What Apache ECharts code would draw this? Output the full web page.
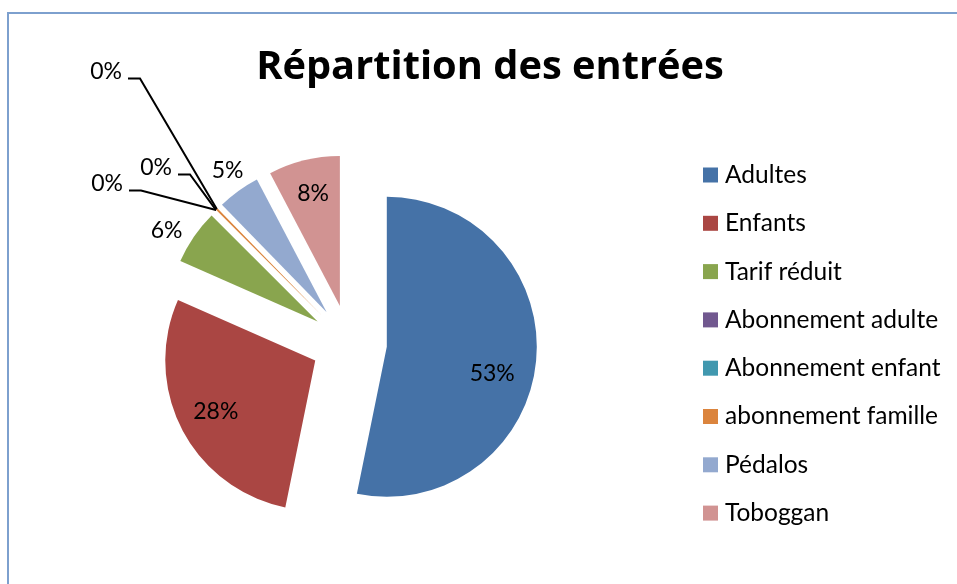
<!DOCTYPE html>
<html>
<head>
<meta charset="utf-8">
<title>Répartition des entrées</title>
<script src="https://cdn.jsdelivr.net/npm/echarts@6/dist/echarts.min.js"></script>
<style>
  html, body { margin: 0; padding: 0; background: #fff; }
  #main { width: 957px; height: 584px; }
</style>
</head>
<body>
<div id="main"></div>
<script>
// catégories et parts (%)
var categories = ['Adultes', 'Enfants', 'Tarif réduit', 'Abonnement adulte', 'Abonnement enfant', 'abonnement famille', 'Pédalos', 'Toboggan'];
var values = [53.2, 28.4, 5.9, 0, 0, 0.2, 4.6, 7.7];
var colors = ['#4572A7', '#AA4643', '#89A54E', '#71588F', '#4198AF', '#DB843D', '#93A9CF', '#D19392'];

var POLICE = 'Lato';
var CX = 349, CY = 343, R = 150, ECLATE = 38;
var total = values.reduce(function (a, b) { return a + b; }, 0);

// angle médian d'une part (0 = midi, sens horaire)
function angleMilieu(i) {
  var avant = 0;
  for (var k = 0; k < i; k++) avant += values[k];
  return (avant + values[i] / 2) / total * 2 * Math.PI;
}
// point à distance rho du sommet de la part i (part éclatée)
function pointSurRayon(i, rho) {
  var a = angleMilieu(i);
  return [CX + (ECLATE + rho) * Math.sin(a), CY - (ECLATE + rho) * Math.cos(a)];
}

// étiquettes : dedans / dehors / parts nulles déplacées avec trait de rappel
var dedans = { 0: true, 1: true, 7: true };
var retouche = { 0: [-6, 16], 2: [-5, 9], 6: [5, 2], 7: [0, -4] };
// bord droit et milieu du texte des étiquettes « 0% »
var posZero = { 3: [123, 184], 4: [172, 168], 5: [122, 72] };

var myChart = echarts.init(document.getElementById('main'));

// une série par part, chacune décalée le long de sa bissectrice (part éclatée)
var series = categories.map(function (c, i) {
  return {
    type: 'pie',
    name: c,
    center: pointSurRayon(i, 0),
    radius: [0, R],
    startAngle: 90,
    clockwise: true,
    silent: true,
    avoidLabelOverlap: false,
    emphasis: { disabled: true },
    itemStyle: { borderWidth: 0 },
    label: {
      fontFamily: POLICE,
      fontSize: 23,
      color: '#000',
      formatter: function (p) { return Math.round(p.percent) + '%'; }
    },
    labelLine: {
      smooth: false,
      lineStyle: { color: '#000', width: 2 }
    },
    labelLayout: function (p) {
      var j = p.dataIndex;
      if (posZero[j]) {
        var x = posZero[j][0], y = posZero[j][1];
        return {
          x: x, y: y, align: 'right', verticalAlign: 'middle',
          labelLinePoints: [pointSurRayon(j, R), [x + 18, y + 6.5], [x + 6, y + 6.5]]
        };
      }
      var pt = pointSurRayon(j, dedans[j] ? 112 : 177);
      var r = retouche[j] || [0, 0];
      return { x: pt[0] + r[0], y: pt[1] + r[1], align: 'center', verticalAlign: 'middle' };
    },
    data: values.map(function (v, j) {
      return {
        name: categories[j],
        value: v,
        itemStyle: { color: j === i ? colors[j] : 'rgba(0,0,0,0)' },
        label: { show: j === i },
        labelLine: { show: j === i && !!posZero[j] }
      };
    })
  };
});

var option = {
  animation: false,
  title: {
    text: 'Répartition des entrées',
    left: 485,
    textAlign: 'center',
    top: 43.5,
    textStyle: { fontFamily: 'Open Sans', fontWeight: 'bold', fontSize: 39.8, lineHeight: 39, color: '#000' }
  },
  legend: {
    orient: 'vertical',
    left: 703,
    top: 162.5,
    padding: 0,
    itemWidth: 15,
    itemHeight: 15,
    itemGap: 23.3,
    icon: 'rect',
    selectedMode: false,
    data: categories.map(function (c, i) {
      return { name: c, itemStyle: { color: colors[i] } };
    }),
    textStyle: { fontFamily: POLICE, fontSize: 24.5, lineHeight: 24, color: '#000', padding: [0, 0, 0, 2] }
  },
  graphic: [{
    type: 'rect',
    shape: { x: 8, y: 13, width: 1000, height: 1000 },
    style: { fill: 'none', stroke: '#7DA0CE', lineWidth: 2 },
    silent: true
  }],
  series: series
};
myChart.setOption(option);
</script>
</body>
</html>
